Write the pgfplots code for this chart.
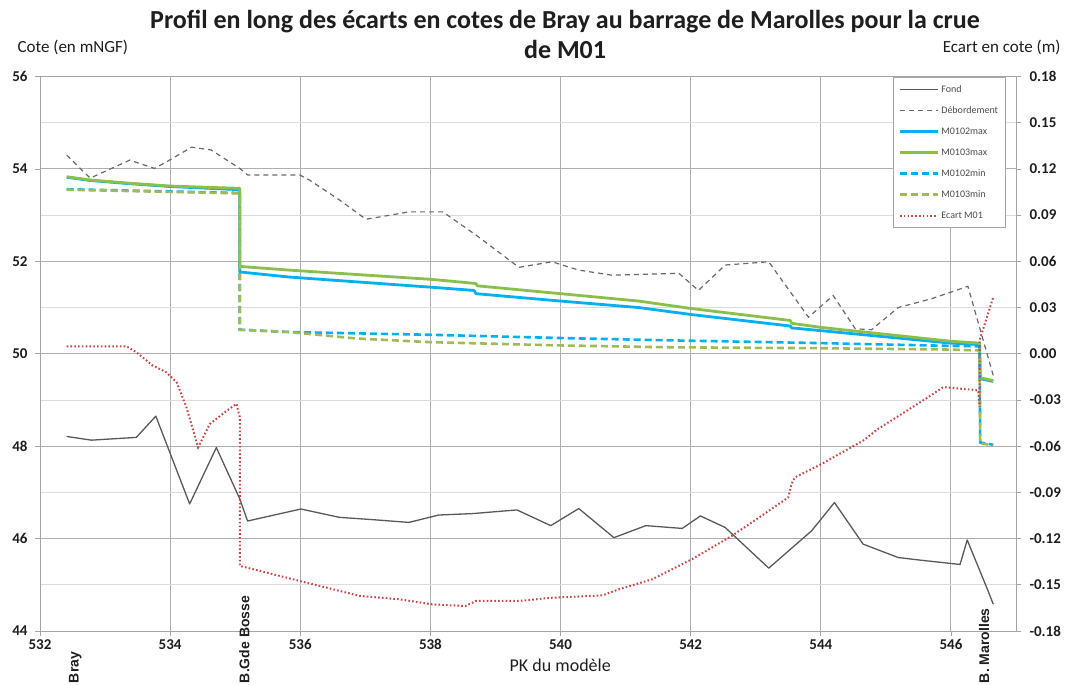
\documentclass[border=0pt]{standalone}
\usepackage{fontspec}
\setmainfont{Carlito}
\newfontfamily\lblfont{Liberation Sans}
\usepackage{pgfplots}
\pgfplotsset{compat=1.18}
\definecolor{fondc}{RGB}{89,89,89}
\definecolor{debc}{RGB}{105,105,105}
\definecolor{bluec}{RGB}{0,176,240}
\definecolor{greenc}{RGB}{140,190,75}
\definecolor{greend}{RGB}{160,187,85}
\definecolor{redc}{RGB}{196,70,70}
\definecolor{gridmaj}{RGB}{175,175,175}
\definecolor{gridmin}{RGB}{220,220,220}
\definecolor{axc}{RGB}{165,165,165}
\definecolor{txt}{RGB}{30,30,30}
\pgfplotsset{
 fondst/.style={fondc, line width=1.3pt, solid, line join=round},
 debst/.style={debc, line width=1.2pt, dash pattern=on 5pt off 4pt},
 bmaxst/.style={bluec, line width=2.8pt, line join=round},
 gmaxst/.style={greenc, line width=2.8pt, line join=round},
 bminst/.style={bluec, line width=2.6pt, dash pattern=on 7pt off 4pt},
 gminst/.style={greend, line width=2.6pt, dash pattern=on 7pt off 4pt},
 ecst/.style={redc, line width=2pt, dash pattern=on 1.6pt off 2.2pt},
 common/.style={width=976pt, height=554.5pt, scale only axis, xmin=532, xmax=547,
   clip=false, set layers=standard,
   tick align=outside, major tick length=5pt, minor tick length=0pt,
   tick style={axc, line width=0.8pt}, axis line style={axc, line width=0.8pt},
   ticklabel style={font=\bfseries\fontsize{15}{15}\selectfont, text=txt},
   /pgf/number format/assume math mode=true},
}
\begin{document}
\begin{tikzpicture}
\begin{axis}[common, name=ax, ymin=44, ymax=56,
  ytick={44,46,...,56}, minor ytick={45,47,...,55}, xtick={532,534,...,546},
  xmajorgrids, ymajorgrids, yminorgrids,
  major grid style={gridmaj, line width=0.9pt}, minor grid style={gridmin, line width=0.9pt},
  xtick pos=lower, ytick pos=left, yticklabel style={xshift=-4pt}]
\addplot[fondst] coordinates {(532.41,48.21)(532.79,48.13)(533.48,48.19)(533.78,48.65)(534.30,46.75)(534.71,47.97)(535.07,46.86)(535.19,46.38)(536.01,46.64)(536.60,46.46)(537.11,46.41)(537.67,46.35)(538.13,46.51)(538.64,46.54)(539.33,46.62)(539.85,46.28)(540.28,46.65)(540.82,46.02)(541.31,46.28)(541.87,46.22)(542.15,46.49)(542.53,46.24)(543.20,45.36)(543.86,46.17)(544.21,46.78)(544.65,45.88)(545.19,45.59)(545.55,45.53)(546.14,45.44)(546.25,45.97)(546.57,44.87)(546.65,44.58)};
\addplot[debst] coordinates {(532.41,54.30)(532.77,53.80)(533.38,54.19)(533.76,54.01)(533.99,54.19)(534.33,54.47)(534.63,54.41)(535.07,54.01)(535.19,53.87)(535.99,53.87)(536.14,53.76)(536.60,53.33)(537.01,52.91)(537.67,53.07)(538.19,53.07)(538.70,52.57)(539.36,51.87)(539.87,51.99)(540.28,51.81)(540.79,51.70)(541.82,51.74)(542.12,51.37)(542.53,51.92)(543.20,51.99)(543.81,50.79)(544.19,51.26)(544.53,50.54)(544.78,50.52)(545.19,51.00)(545.70,51.19)(546.26,51.46)(546.65,49.53)};
\addplot[bmaxst] coordinates {(532.41,53.82)(532.77,53.75)(533.38,53.68)(533.99,53.62)(534.60,53.58)(535.07,53.55)(535.07,51.77)(535.83,51.66)(538.01,51.44)(538.67,51.37)(538.70,51.30)(540.00,51.14)(541.20,51.00)(542.00,50.85)(543.53,50.60)(543.55,50.56)(544.00,50.50)(546.00,50.23)(546.44,50.20)(546.45,49.46)(546.65,49.40)};
\addplot[gmaxst] coordinates {(532.41,53.83)(532.77,53.76)(533.38,53.69)(533.99,53.63)(534.60,53.60)(535.07,53.58)(535.07,51.89)(535.83,51.81)(538.01,51.61)(538.70,51.52)(538.72,51.47)(540.00,51.30)(541.20,51.14)(542.00,50.98)(543.53,50.72)(543.55,50.66)(544.00,50.57)(546.00,50.27)(546.44,50.23)(546.45,49.48)(546.65,49.42)};
\addplot[bminst] coordinates {(532.41,53.56)(535.07,53.48)(535.07,50.52)(535.83,50.47)(538.01,50.41)(540.00,50.34)(541.66,50.29)(544.00,50.23)(546.00,50.17)(546.44,50.16)(546.45,48.08)(546.65,48.03)};
\addplot[gminst] coordinates {(532.41,53.55)(535.07,53.47)(535.07,50.52)(535.83,50.47)(536.86,50.33)(538.01,50.25)(540.00,50.18)(541.66,50.14)(544.00,50.12)(546.00,50.09)(546.44,50.07)(546.45,48.06)(546.65,48.02)};
\node[font=\bfseries\fontsize{26}{30}\selectfont, align=center, text=txt, yshift=42pt] at (rel axis cs:0.538,1) {Profil en long des écarts en cotes de Bray au barrage de Marolles pour la crue\\de M01};
\node[font=\fontsize{17}{17}\selectfont, text=txt, anchor=west, xshift=-26pt, yshift=29.5pt] at (rel axis cs:0,1) {Cote (en mNGF)};
\node[font=\fontsize{17}{17}\selectfont, text=txt, anchor=east, xshift=48pt, yshift=29.5pt] at (rel axis cs:1,1) {Ecart en cote (m)};
\node[font=\fontsize{18}{18}\selectfont, text=txt, yshift=-34.3pt] at (rel axis cs:0.533,0) {PK du modèle};
\node[rotate=90, anchor=west, inner sep=0pt, font=\lblfont\bfseries\fontsize{14}{14}\selectfont, text=txt] at (axis cs:532.54,42.87) {Bray};
\node[rotate=90, anchor=west, inner sep=0pt, font=\lblfont\bfseries\fontsize{14}{14}\selectfont, text=txt] at (axis cs:535.14,42.87) {B.Gde Bosse};
\node[rotate=90, anchor=west, inner sep=0pt, font=\lblfont\bfseries\fontsize{14}{14}\selectfont, text=txt] at (axis cs:546.51,42.87) {B. Marolles};
\end{axis}
\begin{axis}[common, ymin=-0.18, ymax=0.18, axis x line=none, axis y line*=right,
  ytick={-0.18,-0.15,-0.12,-0.09,-0.06,-0.03,0,0.03,0.06,0.09,0.12,0.15,0.18},
  yticklabels={-0.18,-0.15,-0.12,-0.09,-0.06,-0.03,0.00,0.03,0.06,0.09,0.12,0.15,0.18},
  yticklabel style={xshift=5pt},
  legend cell align=left,
  legend image code/.code={\draw[#1] (0pt,0pt) -- (38pt,0pt);},
  legend style={at={(0.989,0.999)}, anchor=north east, draw=axc, fill=white,
    font=\fontsize{10}{12}\selectfont, text=black!70, row sep=8.8pt, inner xsep=5pt, inner ysep=6pt}]
\addlegendimage{fondst}\addlegendentry{Fond}
\addlegendimage{debst}\addlegendentry{Débordement}
\addlegendimage{bmaxst}\addlegendentry{M0102max}
\addlegendimage{gmaxst}\addlegendentry{M0103max}
\addlegendimage{bminst}\addlegendentry{M0102min}
\addlegendimage{gminst}\addlegendentry{M0103min}
\addplot[ecst] coordinates {(532.41,0.0048)(533.33,0.0048)(533.48,0.001)(533.73,-0.0076)(533.94,-0.012)(534.10,-0.0185)(534.25,-0.0347)(534.43,-0.0608)(534.61,-0.0456)(534.84,-0.038)(535.02,-0.0325)(535.07,-0.0413)(535.07,-0.1377)(535.99,-0.1475)(536.91,-0.1572)(537.52,-0.1594)(538.03,-0.1627)(538.54,-0.1638)(538.70,-0.1605)(539.36,-0.1605)(539.87,-0.1584)(540.64,-0.1569)(540.90,-0.1529)(541.41,-0.1464)(542.02,-0.1334)(542.63,-0.1183)(543.09,-0.1052)(543.50,-0.0933)(543.55,-0.0846)(543.60,-0.0803)(544.01,-0.0716)(544.65,-0.0564)(544.88,-0.0488)(545.65,-0.0282)(545.88,-0.0217)(546.34,-0.0234)(546.42,-0.0239)(546.44,-0.0347)(546.44,0.0087)(546.65,0.0368)};
\addlegendentry{Ecart M01}
\end{axis}
\pgfresetboundingbox
\path ([xshift=-40pt,yshift=-53.3pt]ax.south west) rectangle ([xshift=53pt,yshift=76.5pt]ax.north east);
\end{tikzpicture}
\end{document}
